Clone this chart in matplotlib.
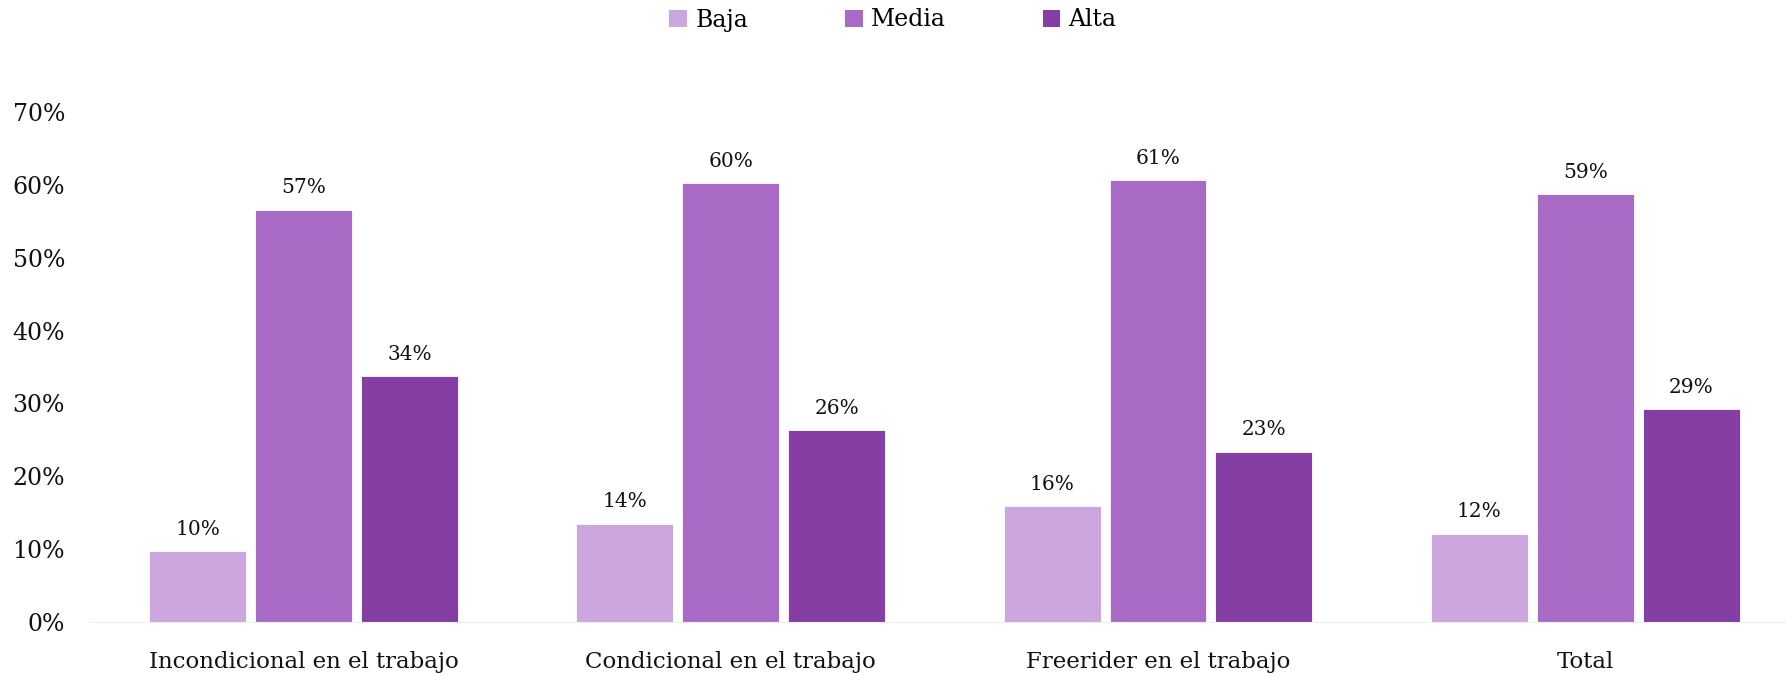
import numpy as np
from matplotlib import pyplot as plt
from matplotlib.patches import Patch

plt.rcParams['font.family'] = ['DejaVu Serif']

categorias = ["Incondicional en el trabajo", "Condicional en el trabajo",
              "Freerider en el trabajo", "Total"]
series = ["Baja", "Media", "Alta"]
baja = [9.7, 13.5, 15.9, 12.1]
media = [56.6, 60.2, 60.6, 58.7]
alta = [33.7, 26.3, 23.4, 29.2]
colores = ["#CCA7DF", "#A96AC6", "#843EA4"]

fig = plt.figure(figsize=(17.86, 6.76), dpi=100)
ax = fig.add_axes([90 / 1786, 1 - 622 / 676, (1786 - 90) / 1786, (622 - 112) / 676])

x = np.arange(len(categorias))
ancho = 0.227
paso = 0.248
for i, (nombre, vals) in enumerate(zip(series, [baja, media, alta])):
    pos = x + (i - 1) * paso
    bars = ax.bar(pos, vals, width=ancho, color=colores[i], edgecolor="white", linewidth=0.6)
    for b, v in zip(bars, vals):
        ax.text(b.get_x() + b.get_width() / 2, v + 1.7, f"{round(v):.0f}%",
                ha="center", va="bottom", fontsize=14.5, color="#111111")

ax.set_xlim(-0.5, 3.47)
ax.set_ylim(0, 70)
ax.set_yticks(range(0, 71, 10))
ax.set_yticklabels([f"{t}%" for t in range(0, 71, 10)], fontsize=17)
ax.set_xticks(x)
ax.set_xticklabels(categorias, fontsize=16.5)
ax.tick_params(axis="both", length=0, colors="#111111")
ax.tick_params(axis="x", pad=21)
ax.tick_params(axis="y", pad=18)
for s in ["top", "right", "left"]:
    ax.spines[s].set_visible(False)
ax.spines["bottom"].set_color("#EEEEEE")

handles = [Patch(facecolor=c, edgecolor="none") for c in colores]
fig.legend(handles, series, loc="center", bbox_to_anchor=(0.5, 1 - 20 / 676), ncol=3,
           frameon=False, fontsize=17, handlelength=0.75, handleheight=0.75,
           handletextpad=0.35, columnspacing=4.1)

fig.savefig("out.png", dpi=100)
